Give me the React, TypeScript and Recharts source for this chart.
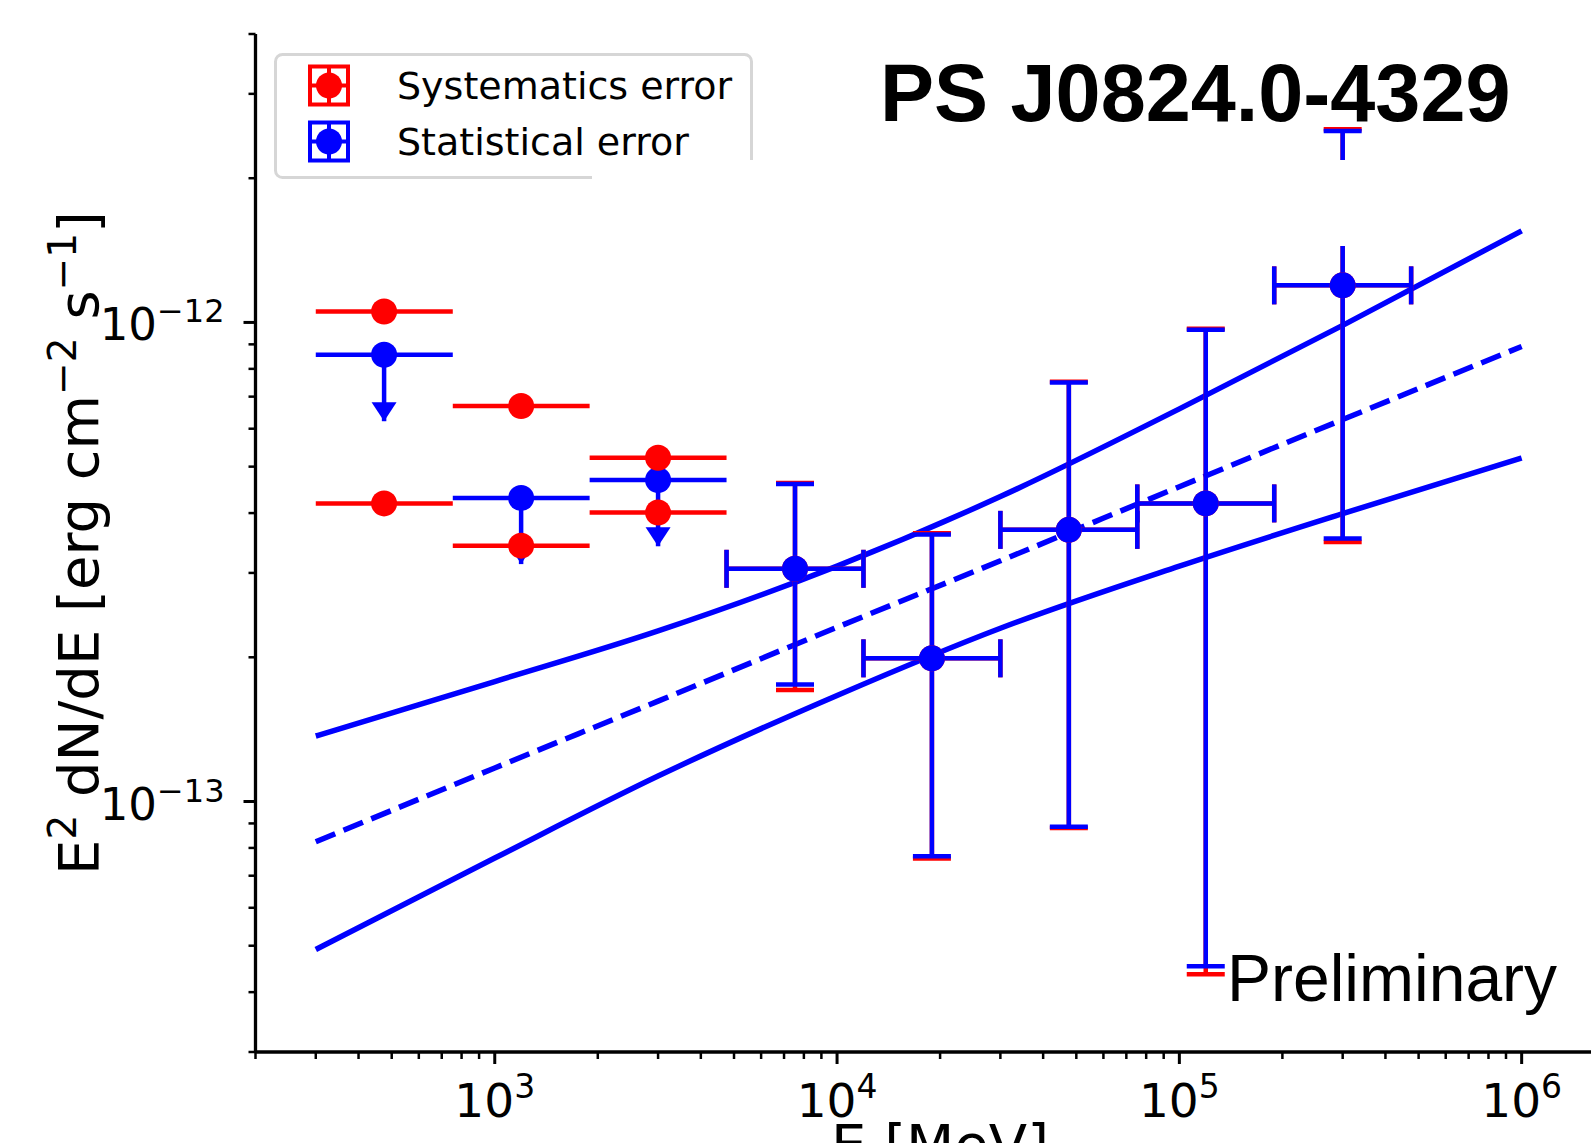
import React from 'react';
import { ComposedChart, Line, Scatter, XAxis, YAxis, ErrorBar, Legend } from 'recharts';

// energy bins [MeV]
const binCenter = [475, 1194, 3000, 7536, 18929, 47548, 119432, 300000];
const binLow = [300, 754, 1893, 4755, 11944, 30000, 75357, 189287];
const binHigh = [754, 1893, 4755, 11944, 30000, 75357, 189287, 475468];

// first three bins are upper limits [erg cm-2 s-1]
const ulStat = [8.56e-13, 4.3e-13, 4.69e-13];
const ulStatArrowEnd = [6.22e-13, 3.13e-13, 3.41e-13];
const ulSysHigh = [1.054e-12, 6.69e-13, 5.22e-13];
const ulSysLow = [4.19e-13, 3.42e-13, 4.01e-13];

// remaining five bins are detections
const fluxStat = [3.06e-13, 1.99e-13, 3.69e-13, 4.19e-13, 1.195e-12];
const statLow = [1.755e-13, 7.69e-14, 8.86e-14, 4.53e-14, 3.54e-13];
const statHigh = [4.6e-13, 3.61e-13, 7.49e-13, 9.65e-13, 2.51e-12];
const sysLow = [1.71e-13, 7.6e-14, 8.8e-14, 4.36e-14, 3.48e-13];
const sysHigh = [4.62e-13, 3.63e-13, 7.52e-13, 9.7e-13, 2.53e-12];

// power law fit and its butterfly
const modelE = [300, 1000, 3000, 10000, 30000, 100000, 300000, 1000000];
const modelUpper = [1.37e-13, 1.78e-13, 2.27e-13, 3.1e-13, 4.33e-13, 6.6e-13, 9.86e-13, 1.553e-12];
const modelBest = [8.24e-14, 1.175e-13, 1.62e-13, 2.31e-13, 3.18e-13, 4.54e-13, 6.27e-13, 8.91e-13];
const modelLower = [4.91e-14, 7.62e-14, 1.13e-13, 1.665e-13, 2.3e-13, 3.1e-13, 3.99e-13, 5.21e-13];

const legendLabels = ['Systematics error', 'Statistical error'];
const title = 'PS J0824.0-4329';
const watermark = 'Preliminary';

const RED = '#ff0000';
const BLUE = '#0000ff';
const FONT = 'DejaVu Sans';

const X_DOMAIN = [200, 2e6];
const Y_DOMAIN = [3e-14, 4e-12];

function logTicks(lo: number, hi: number) {
  const out: number[] = [];
  for (let p = Math.floor(Math.log10(lo)); p <= Math.ceil(Math.log10(hi)); p++) {
    for (let m = 1; m <= 9; m++) {
      const v = m * Math.pow(10, p);
      if (v >= lo * 0.999 && v <= hi * 1.001) out.push(v);
    }
  }
  return out;
}
const xTicks = logTicks(X_DOMAIN[0], X_DOMAIN[1]);
const yTicks = logTicks(Y_DOMAIN[0], Y_DOMAIN[1]);

const isMajor = (v: number) => Math.abs(Math.log10(v) - Math.round(Math.log10(v))) < 1e-6;

const ulStatData = ulStat.map((f, i) => ({
  e: binCenter[i],
  f,
  xErr: [binCenter[i] - binLow[i], binHigh[i] - binCenter[i]],
  yErr: [f - ulStatArrowEnd[i], 0],
}));
const ulArrowData = ulStatArrowEnd.map((f, i) => ({ e: binCenter[i], f }));
const ulSysData = [...ulSysHigh, ...ulSysLow].map((f, k) => {
  const i = k % ulSysHigh.length;
  return { e: binCenter[i], f, xErr: [binCenter[i] - binLow[i], binHigh[i] - binCenter[i]] };
});
const statData = fluxStat.map((f, k) => {
  const i = k + ulStat.length;
  return {
    e: binCenter[i],
    f,
    xErr: [binCenter[i] - binLow[i], binHigh[i] - binCenter[i]],
    yErr: [f - statLow[k], statHigh[k] - f],
  };
});
const sysData = fluxStat.map((f, k) => {
  const i = k + ulStat.length;
  return {
    e: binCenter[i],
    f,
    xErr: [binCenter[i] - binLow[i], binHigh[i] - binCenter[i]],
    yErr: [f - sysLow[k], sysHigh[k] - f],
  };
});
const modelData = modelE.map((e, i) => ({
  e,
  upper: modelUpper[i],
  best: modelBest[i],
  lower: modelLower[i],
}));

const XTick = (props: any) => {
  const { x, y, payload } = props;
  const v = payload.value;
  const major = isMajor(v);
  return (
    <g>
      <line x1={x} x2={x} y1={y} y2={y + (major ? 12 : 7)} stroke="#000" strokeWidth={major ? 3 : 2.5} />
      {major && (
        <text x={x} y={y + 65} textAnchor="middle" fontFamily={FONT} fontSize={47} fill="#000">
          10
          <tspan dy={-19} fontSize={33}>
            {Math.round(Math.log10(v))}
          </tspan>
        </text>
      )}
    </g>
  );
};

const YTick = (props: any) => {
  const { x, y, payload } = props;
  const v = payload.value;
  const major = isMajor(v);
  const exp = Math.round(Math.log10(v));
  return (
    <g>
      <line x1={x} x2={x - (major ? 12 : 7)} y1={y} y2={y} stroke="#000" strokeWidth={major ? 3 : 2.5} />
      {major && (
        <text x={x - 31} y={y + 18} textAnchor="end" fontFamily={FONT} fontSize={45} fill="#000">
          10
          <tspan dy={-18} fontSize={32}>
            {'\u2212' + Math.abs(exp)}
          </tspan>
        </text>
      )}
    </g>
  );
};

const dot = (color: string) => (p: any) => <circle cx={p.cx} cy={p.cy} r={13} fill={color} />;
const arrowHead = (p: any) => (
  <path d={`M${p.cx - 12.5},${p.cy - 19} L${p.cx + 12.5},${p.cy - 19} L${p.cx},${p.cy} Z`} fill={BLUE} />
);

const legendColors = [RED, BLUE];

const LegendBox = () => (
  <svg width={482} height={128} style={{ display: 'block' }}>
    <rect x={1.5} y={1.5} width={476} height={123} rx={7} fill="#fff" stroke="#d6d6d6" strokeWidth={3} />
    {legendLabels.map((label, i) => {
      const cy = 32.5 + i * 56;
      const cx = 55;
      const c = legendColors[i];
      return (
        <g key={label}>
          <rect x={cx - 19} y={cy - 19} width={38} height={38} fill="none" stroke={c} strokeWidth={4} />
          <line x1={cx} x2={cx} y1={cy - 19} y2={cy + 19} stroke={c} strokeWidth={4} />
          <line x1={cx - 19} x2={cx + 19} y1={cy} y2={cy} stroke={c} strokeWidth={4} />
          <circle cx={cx} cy={cy} r={13} fill={c} />
          <text x={123} y={cy + 13} fontFamily={FONT} fontSize={38} fill="#000">
            {label}
          </text>
        </g>
      );
    })}
  </svg>
);

export default function App() {
  return (
    <div
      style={{
        position: 'fixed',
        left: 0,
        top: 0,
        width: 1591,
        height: 1143,
        overflow: 'hidden',
        background: '#fff',
      }}
    >
      <ComposedChart width={1700} height={1143} margin={{ top: 34, right: 75.3, bottom: 0, left: 0 }}>
        <XAxis
          xAxisId="top"
          orientation="top"
          type="number"
          scale="log"
          domain={X_DOMAIN}
          allowDataOverflow
          height={0}
          tick={false}
          tickLine={false}
          axisLine={{ stroke: '#000', strokeWidth: 3.3 }}
        />
        <XAxis
          type="number"
          dataKey="e"
          scale="log"
          domain={X_DOMAIN}
          allowDataOverflow
          ticks={xTicks}
          interval={0}
          tickSize={0}
          tickMargin={0}
          tickLine={false}
          tick={<XTick />}
          height={91}
          axisLine={{ stroke: '#000', strokeWidth: 3.3 }}
        />
        <YAxis
          type="number"
          dataKey="f"
          scale="log"
          domain={Y_DOMAIN}
          allowDataOverflow
          ticks={yTicks}
          interval={0}
          tickSize={0}
          tickMargin={0}
          tickLine={false}
          tick={<YTick />}
          width={255.5}
          axisLine={{ stroke: '#000', strokeWidth: 3.3 }}
        />
        <Legend
          layout="horizontal"
          verticalAlign="middle"
          align="center"
          content={() => <LegendBox />}
          wrapperStyle={{ left: 273.5, top: 52.5, width: 482, height: 128 }}
        />

        <Line
          data={modelData}
          dataKey="upper"
          type="monotone"
          stroke={BLUE}
          strokeWidth={5.5}
          dot={false}
          isAnimationActive={false}
        />
        <Line
          data={modelData}
          dataKey="lower"
          type="monotone"
          stroke={BLUE}
          strokeWidth={5.5}
          dot={false}
          isAnimationActive={false}
        />
        <Line
          data={modelData}
          dataKey="best"
          type="monotone"
          stroke={BLUE}
          strokeWidth={5.5}
          strokeDasharray="21 9"
          dot={false}
          isAnimationActive={false}
        />

        <Scatter data={ulStatData} shape={dot(BLUE)} isAnimationActive={false}>
          <ErrorBar direction="x" dataKey="xErr" width={0} stroke={BLUE} strokeWidth={4.5} isAnimationActive={false} />
          <ErrorBar direction="y" dataKey="yErr" width={0} stroke={BLUE} strokeWidth={4.5} isAnimationActive={false} />
        </Scatter>
        <Scatter data={ulArrowData} shape={arrowHead} isAnimationActive={false} />
        <Scatter data={ulSysData} shape={dot(RED)} isAnimationActive={false}>
          <ErrorBar direction="x" dataKey="xErr" width={0} stroke={RED} strokeWidth={4.5} isAnimationActive={false} />
        </Scatter>

        <Scatter data={sysData} shape={dot(RED)} isAnimationActive={false}>
          <ErrorBar direction="x" dataKey="xErr" width={19} stroke={RED} strokeWidth={4.5} isAnimationActive={false} />
          <ErrorBar direction="y" dataKey="yErr" width={19} stroke={RED} strokeWidth={4.5} isAnimationActive={false} />
        </Scatter>
        <Scatter data={statData} shape={dot(BLUE)} isAnimationActive={false}>
          <ErrorBar direction="x" dataKey="xErr" width={19} stroke={BLUE} strokeWidth={4.5} isAnimationActive={false} />
          <ErrorBar direction="y" dataKey="yErr" width={19} stroke={BLUE} strokeWidth={4.5} isAnimationActive={false} />
        </Scatter>
      </ComposedChart>

      {/* white patch that hides part of the legend frame and the last error bar */}
      <div
        style={{ position: 'absolute', left: 592, top: 160, width: 808, height: 86, background: '#fff', zIndex: 2 }}
      />

      <svg
        width={1591}
        height={1143}
        style={{ position: 'absolute', left: 0, top: 0, pointerEvents: 'none', zIndex: 3 }}
      >
        <text x={880} y={121} fontFamily="Liberation Sans" fontWeight="bold" fontSize={81} fill="#000">
          {title}
        </text>
        <text x={1227} y={1001} fontFamily="Liberation Sans" fontSize={66} fill="#000">
          {watermark}
        </text>
        <text
          transform="translate(98 543) rotate(-90)"
          textAnchor="middle"
          fontFamily={FONT}
          fontSize={56}
          fill="#000"
          style={{ whiteSpace: 'pre' }}
        >
          E<tspan dy={-22} fontSize={39}>2</tspan>
          <tspan dy={22}> dN/dE [erg cm</tspan>
          <tspan dy={-22} fontSize={39}>{'\u22122'}</tspan>
          <tspan dy={22}> s</tspan>
          <tspan dy={-22} fontSize={39}>{'\u22121'}</tspan>
          <tspan dy={22}>]</tspan>
        </text>
        <text x={940} y={1164} textAnchor="middle" fontFamily={FONT} fontSize={56} fill="#000">
          E [MeV]
        </text>
      </svg>
    </div>
  );
}
